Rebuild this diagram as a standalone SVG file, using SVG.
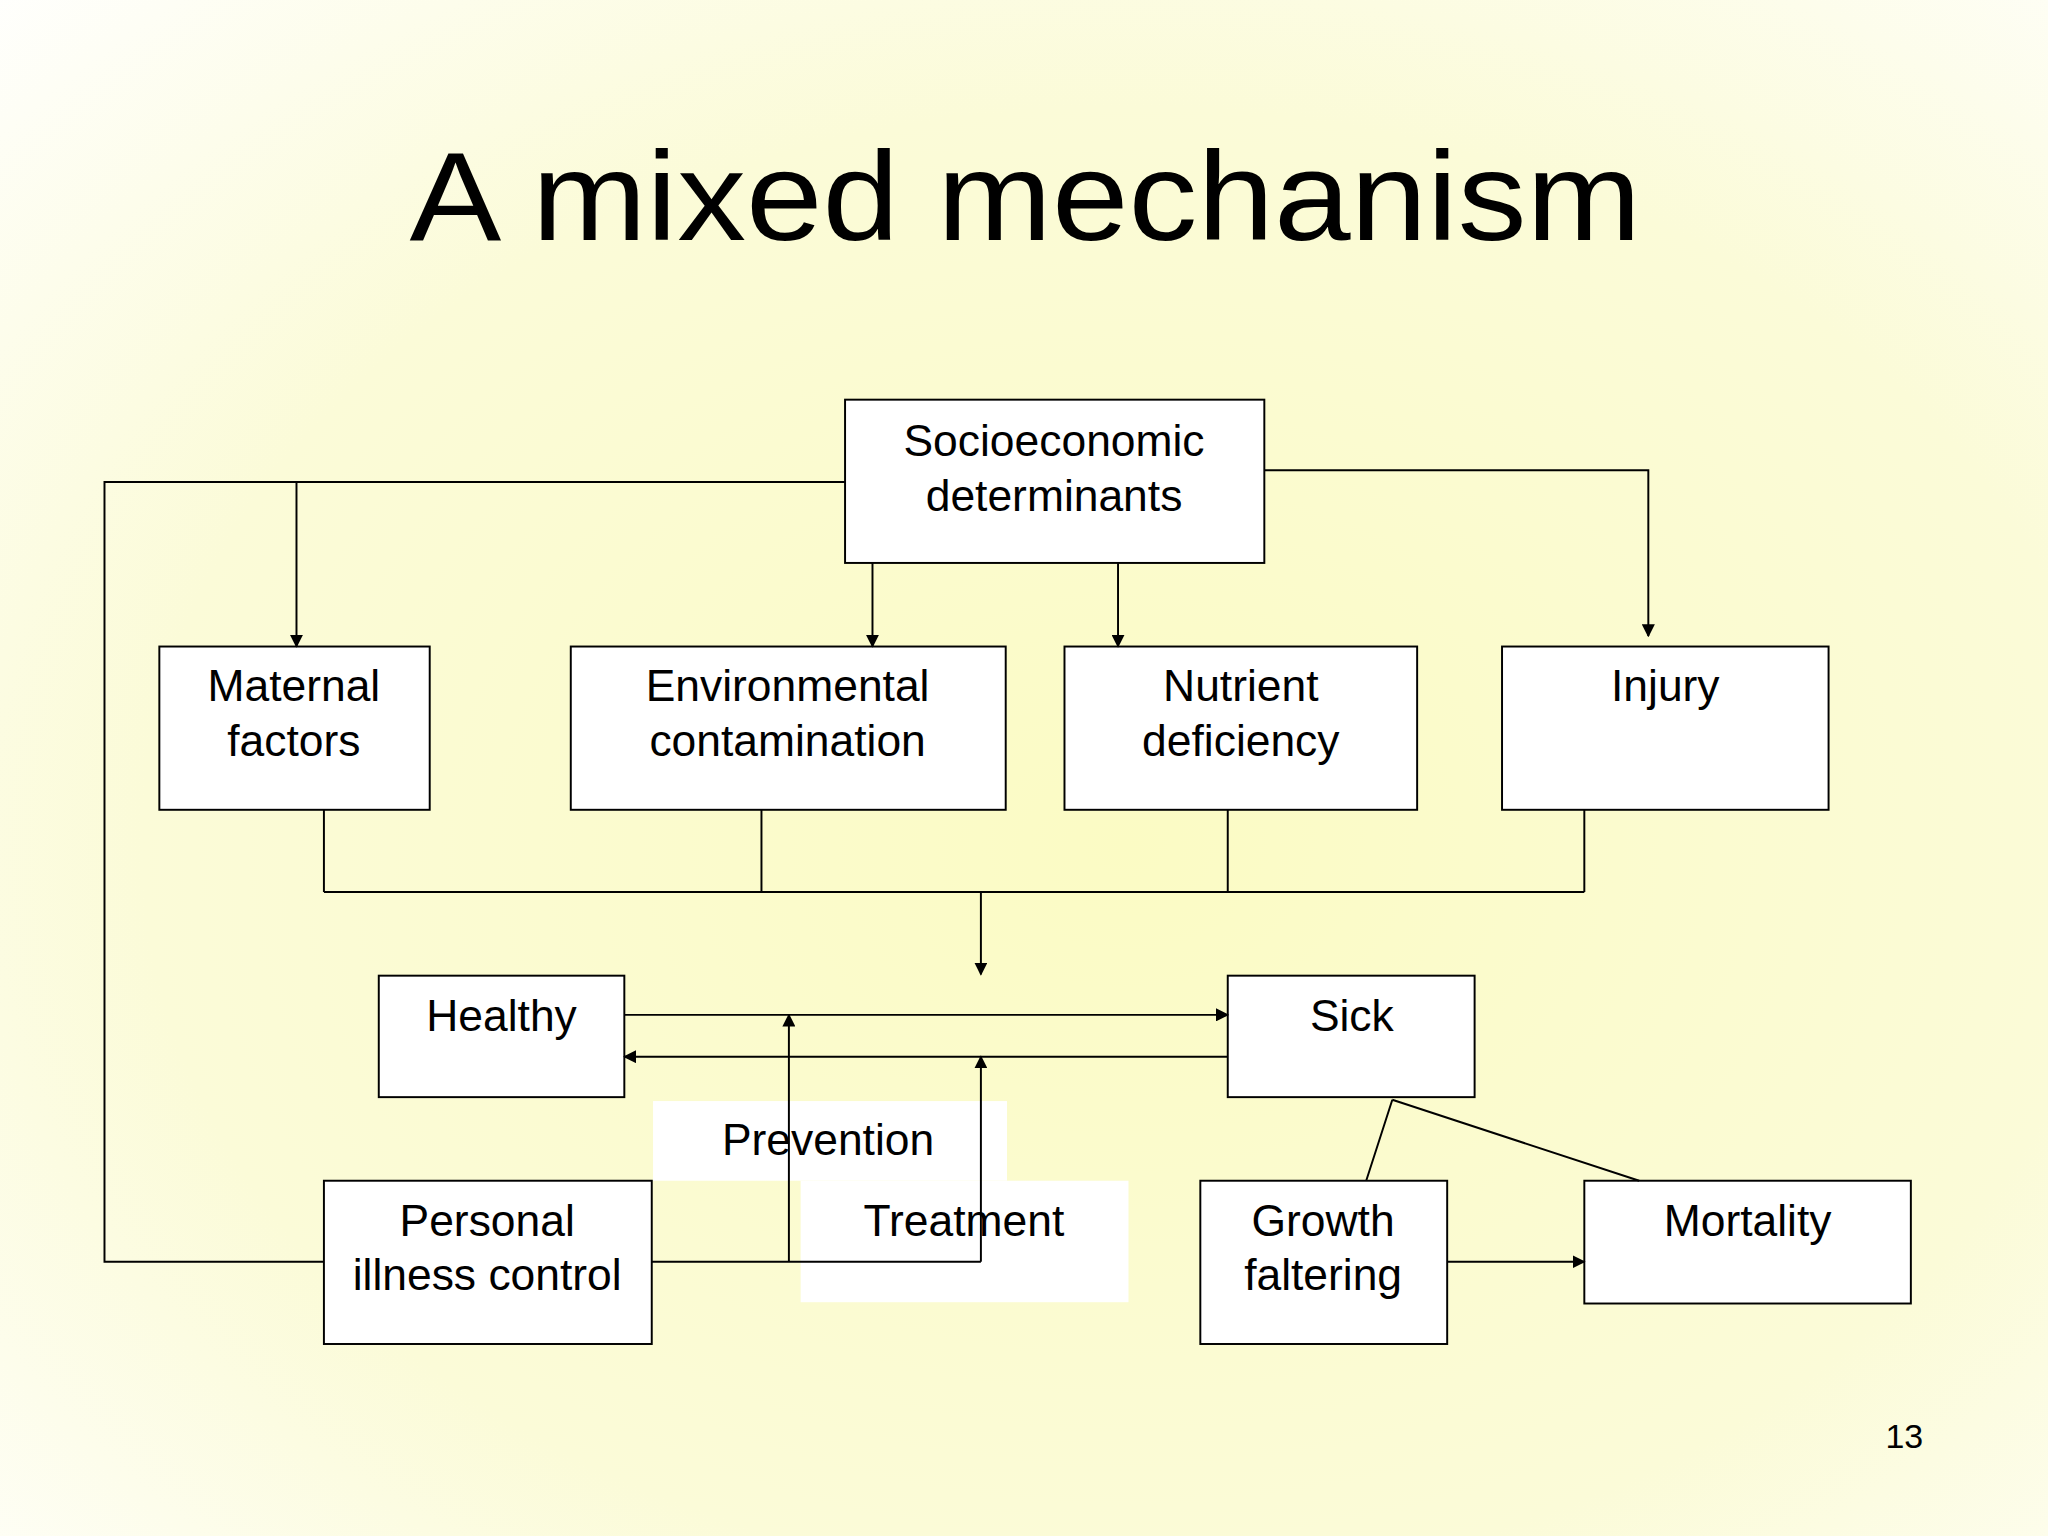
<svg xmlns="http://www.w3.org/2000/svg" width="2048" height="1536" viewBox="0 0 2048 1536">
<defs>
<radialGradient id="bg" cx="0.55" cy="0.55" r="0.8">
<stop offset="0" stop-color="#fbfbc4"/>
<stop offset="0.6" stop-color="#fbfbd8"/>
<stop offset="1" stop-color="#ffffff"/>
</radialGradient>
<marker id="ah" markerWidth="10" markerHeight="10" refX="9" refY="5" orient="auto" markerUnits="userSpaceOnUse"><path d="M0,0 L10,5 L0,10 z" fill="#000"/></marker>
<style>
.box{fill:#fff;stroke:#000;stroke-width:1.5}
.lbl{fill:#fff;stroke:none}
.t{font-family:"Liberation Sans","DejaVu Sans",sans-serif;font-size:34px;fill:#000;text-anchor:middle}
.c{fill:none;stroke:#000;stroke-width:1.5}
</style>
</defs>
<rect width="2048" height="1536" fill="url(#bg)"/>
<g transform="scale(1.30612)">
<text x="785" y="184" class="t" style="font-size:96px" textLength="943" lengthAdjust="spacingAndGlyphs">A mixed mechanism</text>
<g id="labels-bg">
<rect class="lbl" x="500" y="843" width="271" height="61"/>
<rect class="lbl" x="613" y="904" width="251" height="93"/>
</g>
<g id="socio"><rect class="box" x="647" y="306" width="321" height="125"/><text class="t" x="807" y="349">Socioeconomic</text><text class="t" x="807" y="391">determinants</text></g>
<g id="maternal"><rect class="box" x="122" y="495" width="207" height="125"/><text class="t" x="225" y="537">Maternal</text><text class="t" x="225" y="579">factors</text></g>
<g id="env"><rect class="box" x="437" y="495" width="333" height="125"/><text class="t" x="603" y="537">Environmental</text><text class="t" x="603" y="579">contamination</text></g>
<g id="nutrient"><rect class="box" x="815" y="495" width="270" height="125"/><text class="t" x="950" y="537">Nutrient</text><text class="t" x="950" y="579">deficiency</text></g>
<g id="injury"><rect class="box" x="1150" y="495" width="250" height="125"/><text class="t" x="1275" y="537">Injury</text></g>
<g id="healthy"><rect class="box" x="290" y="747" width="188" height="93"/><text class="t" x="384" y="789">Healthy</text></g>
<g id="sick"><rect class="box" x="940" y="747" width="189" height="93"/><text class="t" x="1035" y="789">Sick</text></g>
<g id="personal"><rect class="box" x="248" y="904" width="251" height="125"/><text class="t" x="373" y="946">Personal</text><text class="t" x="373" y="988">illness control</text></g>
<g id="growth"><rect class="box" x="919" y="904" width="189" height="125"/><text class="t" x="1013" y="946">Growth</text><text class="t" x="1013" y="988">faltering</text></g>
<g id="mortality"><rect class="box" x="1213" y="904" width="250" height="94"/><text class="t" x="1338" y="946">Mortality</text></g>
<g id="connectors">
<path class="c" d="M647,369 H80 V966 H248"/>
<path class="c" d="M227,369 V495" marker-end="url(#ah)"/>
<path class="c" d="M668,431 V495" marker-end="url(#ah)"/>
<path class="c" d="M856,431 V495" marker-end="url(#ah)"/>
<path class="c" d="M968,360 H1262 V487" marker-end="url(#ah)"/>
<path class="c" d="M248,620 V683 M583,620 V683 M940,620 V683 M1213,620 V683 M248,683 H1213"/>
<path class="c" d="M751,683 V746" marker-end="url(#ah)"/>
<path class="c" d="M478,777 H940" marker-end="url(#ah)"/>
<path class="c" d="M940,809 H478" marker-end="url(#ah)"/>
<path class="c" d="M499,966 H751"/>
<path class="c" d="M604,966 V777" marker-end="url(#ah)"/>
<path class="c" d="M751,966 V809" marker-end="url(#ah)"/>
<path class="c" d="M1066,842 L1046,904 M1066,842 L1255,904"/>
<path class="c" d="M1108,966 H1213" marker-end="url(#ah)"/>
</g>
<text class="t" x="634" y="884">Prevention</text>
<text class="t" x="738" y="946">Treatment</text>
<text class="t" x="1458" y="1109" style="font-size:26px">13</text>
</g>
</svg>
